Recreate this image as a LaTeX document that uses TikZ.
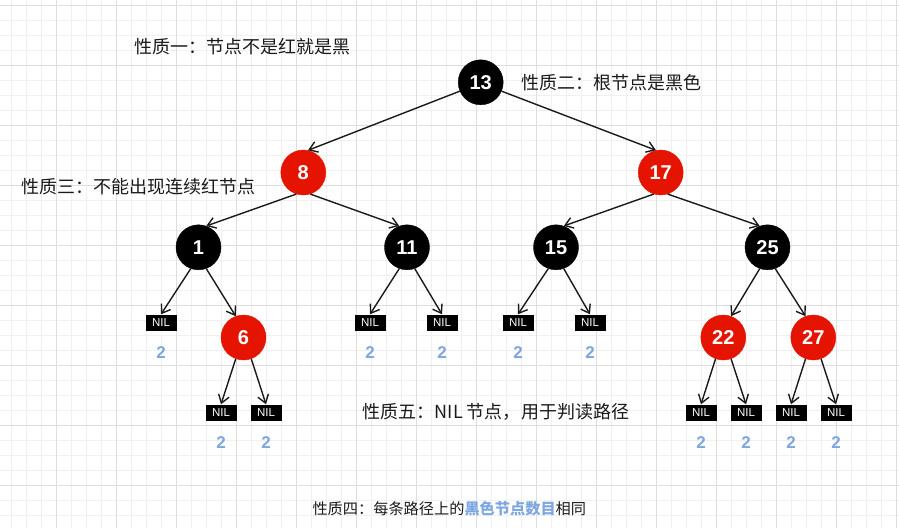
\documentclass[tikz,border=0pt]{standalone}
\usepackage{fontspec}
\setmainfont{Liberation Sans}
\newfontfamily\cjk{Noto Sans CJK SC}
\usepackage{xcolor}
\usepackage{tikz}
\usetikzlibrary{arrows.meta, positioning}
\definecolor{rbred}{HTML}{E51400}
\definecolor{cntblue}{HTML}{7EA6E0}
\definecolor{gridmaj}{HTML}{DEDEDE}
\definecolor{gridmin}{HTML}{F0F0F0}
\definecolor{ink}{HTML}{1A1A1A}

\begin{document}
\begin{tikzpicture}[x=1pt, y=-1pt,
  blk/.style={circle, fill=black, draw=black, minimum size=45pt, inner sep=0pt,
    text=white, font=\fontsize{20}{24}\selectfont\bfseries},
  rd/.style={blk, fill=rbred, draw=rbred},
  nil/.style={rectangle, fill=black, minimum width=31pt, minimum height=16pt,
    inner sep=0pt, text=white, font=\fontsize{11.5}{13}\selectfont},
  cnt/.style={text=cntblue, inner sep=0pt, font=\fontsize{17}{20}\selectfont\bfseries},
  prop/.style={anchor=west, inner sep=0pt, text=ink, font=\cjk\fontsize{18}{22}\selectfont},
  edge/.style={draw=ink, line width=1.4pt, -{Straight Barb[length=8pt,width=11pt]}}]
  \useasboundingbox (0,0) rectangle (899,528);
  % grid
  \foreach \x in {11.7,26.7,...,899} \draw[gridmin, line width=1pt] (\x,0) -- (\x,528);
  \foreach \y in {5,20,...,528} \draw[gridmin, line width=1pt] (0,\y) -- (899,\y);
  \foreach \x in {56.7,116.7,...,899} \draw[gridmaj, line width=1pt] (\x,0) -- (\x,528);
  \foreach \y in {5,65,...,528} \draw[gridmaj, line width=1pt] (0,\y) -- (899,\y);
  % tree
  \node[blk] (n13) at (480.7,82.3) {13};
  \node[rd]  (n8)  at (303.3,172.5) {8};
  \node[rd]  (n17) at (660.7,172.5) {17};
  \node[blk] (n1)  at (198.5,247.3) {1};
  \node[blk] (n11) at (407,247.3) {11};
  \node[blk] (n15) at (556,247.3) {15};
  \node[blk] (n25) at (767.5,247.3) {25};
  \node[rd]  (n6)  at (243.5,337.5) {6};
  \node[rd]  (n22) at (723.3,337.5) {22};
  \node[rd]  (n27) at (813.3,337.5) {27};
  % NIL leaves
  \node[nil] (nil1)   at (161,322.5) {NIL};
  \node[nil] (nil11a) at (370,322.5) {NIL};
  \node[nil] (nil11b) at (442,322.5) {NIL};
  \node[nil] (nil15a) at (518,322.5) {NIL};
  \node[nil] (nil15b) at (590,322.5) {NIL};
  \node[nil] (nil6a)  at (221,412.5) {NIL};
  \node[nil] (nil6b)  at (266,412.5) {NIL};
  \node[nil] (nil22a) at (701,412.5) {NIL};
  \node[nil] (nil22b) at (746,412.5) {NIL};
  \node[nil] (nil27a) at (791,412.5) {NIL};
  \node[nil] (nil27b) at (836,412.5) {NIL};
  % black counts
  \foreach \n in {nil1,nil11a,nil11b,nil15a,nil15b,nil6a,nil6b,nil22a,nil22b,nil27a,nil27b}
    \node[cnt, below=16pt of \n] (c\n) {2};
  % edges
  \foreach \a/\b in {n13.203/n8.78, n13.337/n17.102,
                     n8.252/n1.70, n8.288/n11.110,
                     n17.252/n15.70, n17.288/n25.110,
                     n1.250/nil1.north, n1.290/n6.110,
                     n11.250/nil11a.north, n11.290/nil11b.north,
                     n15.250/nil15a.north, n15.290/nil15b.north,
                     n25.250/n22.70, n25.290/n27.110,
                     n6.250/nil6a.north, n6.290/nil6b.north,
                     n22.250/nil22a.north, n22.290/nil22b.north,
                     n27.250/nil27a.north, n27.290/nil27b.north}
    \draw[edge] (\a) -- (\b);
  % properties
  \node[prop] (p1) at (134,46.7) {性质一：节点不是红就是黑};
  \node[prop] (p2) at (521.7,82.3) {性质二：根节点是黑色};
  \node[prop] (p3) at (21.7,186.7) {性质三：不能出现连续红节点};
  \node[prop] (p5) at (362.7,412.3) {性质五：NIL 节点，用于判读路径};
  \node[prop, font=\cjk\fontsize{15.2}{18}\selectfont] (p4) at (312.3,508.5)
    {性质四：每条路径上的\textcolor{cntblue}{\bfseries 黑色节点数目}相同};
\end{tikzpicture}
\end{document}
